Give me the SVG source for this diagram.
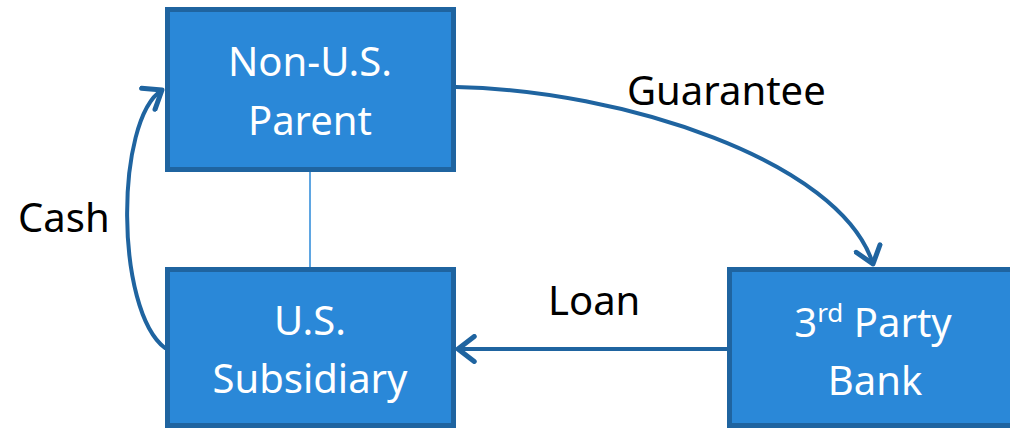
<svg xmlns="http://www.w3.org/2000/svg" width="1010" height="430" viewBox="0 0 1010 430">
<style>
.box{fill:#2A88D8;stroke:#1F64A0;stroke-width:5}
.nt{font-family:"Noto Sans","Open Sans",sans-serif;font-size:40px;fill:#ffffff;text-anchor:middle}
.lb{font-family:"Noto Sans","Open Sans",sans-serif;font-size:40px;fill:#000000}
.con{fill:none;stroke:#1F64A0;stroke-width:4;stroke-linecap:round}
</style>
<defs>
<marker id="arr" markerUnits="userSpaceOnUse" markerWidth="30" markerHeight="30" viewBox="-16 -12 20 24" refX="0" refY="0" orient="auto">
<path d="M-13,-10 L0,0 L-13,10" fill="none" stroke="#1F64A0" stroke-width="4" stroke-linecap="round" stroke-linejoin="round"/>
</marker>
</defs>
<g id="connectors">
<line x1="310" y1="172" x2="310" y2="267" stroke="#2A88D8" stroke-width="1.5"/>
<path class="con" d="M456,87 C620,90 840,160 873,264" marker-end="url(#arr)"/>
<path class="con" d="M727,349 L458,349" marker-end="url(#arr)"/>
<path class="con" d="M165,348 C115,310 115,120 162,90" marker-end="url(#arr)"/>
</g>
<g id="parent">
<rect class="box" x="167.5" y="9.5" width="286" height="160"/>
<text class="nt" x="310" y="76">Non-U.S.</text>
<text class="nt" x="310" y="135">Parent</text>
</g>
<g id="subsidiary">
<rect class="box" x="167.5" y="269.5" width="286" height="156"/>
<text class="nt" x="310" y="335">U.S.</text>
<text class="nt" x="310" y="393">Subsidiary</text>
</g>
<g id="bank">
<rect class="box" x="729.5" y="269.5" width="286" height="156"/>
<text class="nt" x="873" y="337">3<tspan font-size="26" dy="-15">rd</tspan><tspan dy="15"> Party</tspan></text>
<text class="nt" x="875" y="395">Bank</text>
</g>
<g id="labels">
<text class="lb" x="627" y="105">Guarantee</text>
<text class="lb" x="18" y="232">Cash</text>
<text class="lb" x="548" y="315">Loan</text>
</g>
</svg>
